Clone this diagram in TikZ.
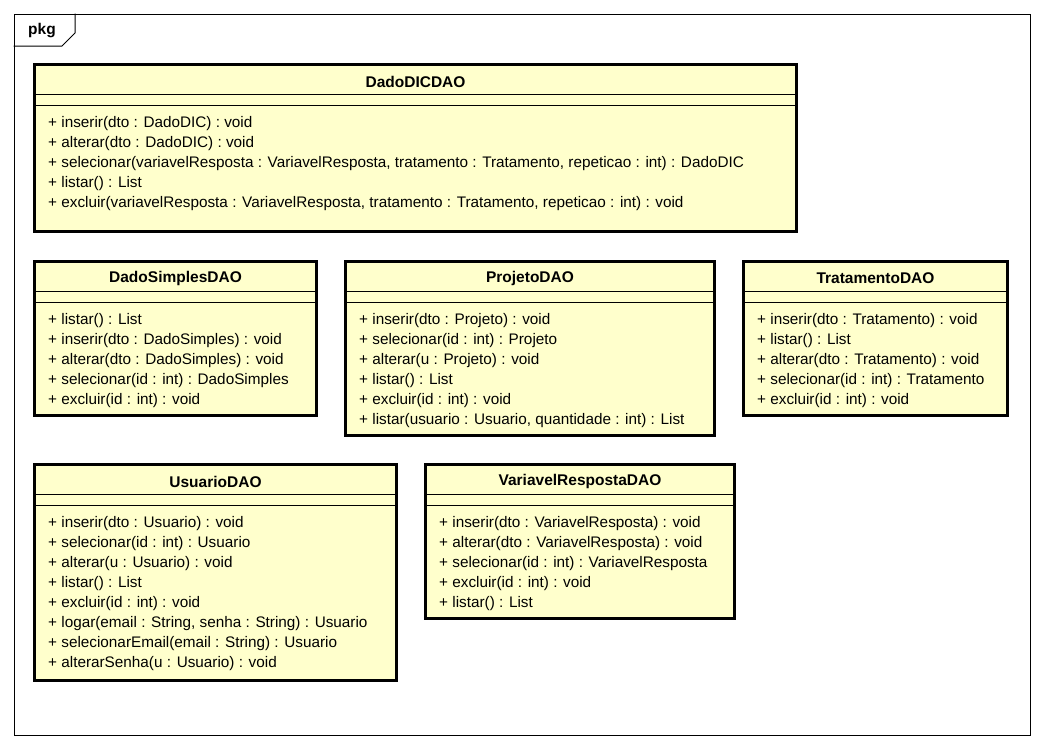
\documentclass[tikz,border=0pt]{standalone}
\usepackage{fontspec}
\setmainfont{Liberation Sans}
\begin{document}
\begin{tikzpicture}[x=1pt,y=-1pt]
\definecolor{classfill}{HTML}{FFFFCC}
\tikzset{
  classbox/.style={draw=black, line width=3pt, fill=classfill, anchor=north west, inner sep=0pt, outer sep=0pt},
  sepline/.style={draw=black, line width=1pt},
  classname/.style={font=\fontsize{15.5}{18}\selectfont\bfseries, anchor=center, inner sep=0pt},
  methods/.style={font=\fontsize{15.3}{20}\selectfont, anchor=north west, align=left, inner sep=0pt},
  frameline/.style={draw=black, line width=1pt}
}
\useasboundingbox (0,0) rectangle (1042,748);
\fill[white] (0,0) rectangle (1042,748);
% package frame
\node[draw=black, line width=1pt, anchor=north west, minimum width=1016pt, minimum height=721pt, inner sep=0pt] (frame) at (13.5,13.5) {};
\coordinate (tabA) at (13.5,46);
\coordinate (tabB) at (62,46);
\coordinate (tabC) at (75,33);
\coordinate (tabD) at (75,13.5);
\draw[frameline] (tabA) -- (tabB) -- (tabC) -- (tabD);
\node[font=\fontsize{15.5}{18}\selectfont\bfseries, inner sep=0pt] (pkg) at (42,31) {pkg};

% class macro: name, x, y, w, h, title, methods
\newcommand{\umlcls}[7]{%
  \node[classbox, minimum width=#4pt, minimum height=#5pt] (#1) at (#2,#3) {};
  \draw[sepline] ([yshift=-30pt]#1.north west) -- ([yshift=-30pt]#1.north east);
  \draw[sepline] ([yshift=-41pt]#1.north west) -- ([yshift=-41pt]#1.north east);
  \node[classname] (#1title) at ([yshift=-17pt]#1.north) {#6};
  \node[methods] (#1methods) at ([xshift=13.5pt,yshift=-51.5pt]#1.north west) {#7};
}

\umlcls{dic}{34.5}{64.5}{762}{167}{DadoDICDAO}{%
+ inserir(dto : DadoDIC) : void\\
+ alterar(dto : DadoDIC) : void\\
+ selecionar(variavelResposta : VariavelResposta, tratamento : Tratamento, repeticao : int) : DadoDIC\\
+ listar() : List\\
+ excluir(variavelResposta : VariavelResposta, tratamento : Tratamento, repeticao : int) : void}

\umlcls{simples}{34.5}{261.5}{282}{154}{DadoSimplesDAO}{%
+ listar() : List\\
+ inserir(dto : DadoSimples) : void\\
+ alterar(dto : DadoSimples) : void\\
+ selecionar(id : int) : DadoSimples\\
+ excluir(id : int) : void}

\umlcls{projeto}{345.5}{261.5}{369}{174}{ProjetoDAO}{%
+ inserir(dto : Projeto) : void\\
+ selecionar(id : int) : Projeto\\
+ alterar(u : Projeto) : void\\
+ listar() : List\\
+ excluir(id : int) : void\\
+ listar(usuario : Usuario, quantidade : int) : List}

\umlcls{tratamento}{743.5}{261.5}{264}{154}{TratamentoDAO}{%
+ inserir(dto : Tratamento) : void\\
+ listar() : List\\
+ alterar(dto : Tratamento) : void\\
+ selecionar(id : int) : Tratamento\\
+ excluir(id : int) : void}

\umlcls{usuario}{34.5}{464.5}{362}{216}{UsuarioDAO}{%
+ inserir(dto : Usuario) : void\\
+ selecionar(id : int) : Usuario\\
+ alterar(u : Usuario) : void\\
+ listar() : List\\
+ excluir(id : int) : void\\
+ logar(email : String, senha : String) : Usuario\\
+ selecionarEmail(email : String) : Usuario\\
+ alterarSenha(u : Usuario) : void}

\umlcls{variavel}{425.5}{464.5}{309}{154}{VariavelRespostaDAO}{%
+ inserir(dto : VariavelResposta) : void\\
+ alterar(dto : VariavelResposta) : void\\
+ selecionar(id : int) : VariavelResposta\\
+ excluir(id : int) : void\\
+ listar() : List}
\end{tikzpicture}
\end{document}
